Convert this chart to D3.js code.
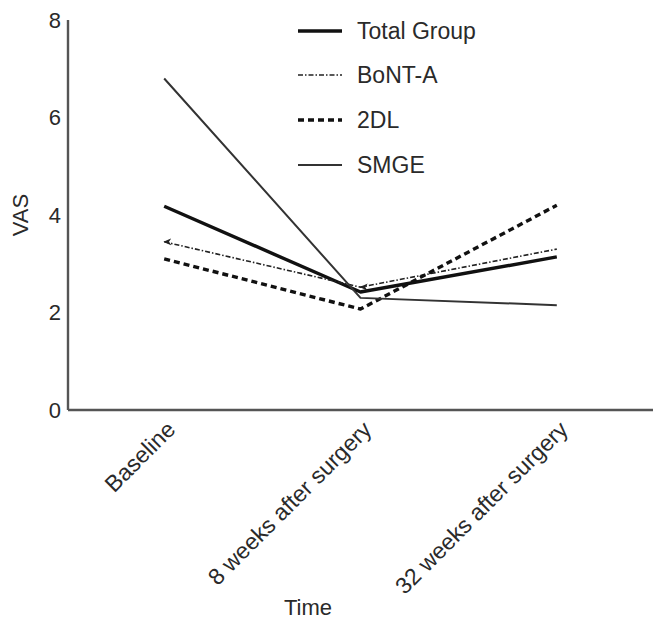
<!DOCTYPE html>
<html>
<head>
<meta charset="utf-8">
<script src="https://cdn.jsdelivr.net/npm/d3@7"></script>
<style>
  html, body { margin: 0; padding: 0; background: #fff; }
  svg { display: block; font-family: "Liberation Sans", Arial, Helvetica, sans-serif; }
</style>
</head>
<body>
<svg id="chart" width="653" height="623"></svg>
<script>
// Time points along the x axis
const timepoints = ["Baseline", "8 weeks after surgery", "32 weeks after surgery"];

// Mean VAS per group at each time point
const totalGroup = [4.18, 2.42, 3.14];
const bontA      = [3.45, 2.52, 3.30];
const twoDL      = [3.10, 2.07, 4.20];
const smge       = [6.80, 2.30, 2.15];

const yTicks = [0, 2, 4, 6, 8];

const seriesNames = ["Total Group", "BoNT-A", "2DL", "SMGE"];
const seriesValues = [totalGroup, bontA, twoDL, smge];

// Line style for each group
const styles = {
  "Total Group": { width: 3.4, dash: null,        color: "#111" },
  "BoNT-A":      { width: 1.6, dash: "5,2,1.5,2", color: "#222" },
  "2DL":         { width: 3.4, dash: "6,4",       color: "#111" },
  "SMGE":        { width: 2.0, dash: null,        color: "#333" }
};

const svg = d3.select("#chart");
const axisColor = "#555";
const textColor = "#2a2a2a";

const x = d3.scalePoint().domain(timepoints).range([68, 653]).padding(0.49);
const y = d3.scaleLinear().domain([0, 8]).range([410, 20]);

// Axes: plain lines with labels, no tick marks
const yAxis = svg.append("g").attr("transform", "translate(68,0)")
  .call(d3.axisLeft(y).tickValues(yTicks).tickSize(0).tickPadding(7).tickFormat(d3.format("d")));
yAxis.select(".domain").attr("stroke", axisColor).attr("stroke-width", 2.4).attr("d", `M0,${y(8)}V${y(0)}`);
yAxis.selectAll("text").attr("font-size", 22).attr("fill", textColor).attr("font-family", null);

const xAxis = svg.append("g").attr("transform", `translate(0,${y(0)})`)
  .call(d3.axisBottom(x).tickSize(0).tickPadding(0));
xAxis.select(".domain").attr("stroke", axisColor).attr("stroke-width", 2.4).attr("d", "M68,0H653");
xAxis.selectAll("text")
  .attr("font-size", 23).attr("fill", textColor).attr("font-family", null)
  .attr("text-anchor", "end")
  .attr("dy", null).attr("y", 0)
  .attr("transform", "translate(12,21) rotate(-45)");

// Axis titles
svg.append("text")
  .attr("transform", `translate(28,${y(4)}) rotate(-90)`)
  .attr("text-anchor", "middle")
  .attr("font-size", 22).attr("fill", textColor)
  .text("VAS");

svg.append("text")
  .attr("x", 308).attr("y", 615)
  .attr("text-anchor", "middle")
  .attr("font-size", 22).attr("fill", textColor)
  .text("Time");

// Left-pointing arrowhead used on the BoNT-A line
const defs = svg.append("defs");
defs.append("marker")
  .attr("id", "arrowL")
  .attr("viewBox", "0 0 10 10")
  .attr("refX", 1).attr("refY", 5)
  .attr("markerWidth", 8).attr("markerHeight", 8)
  .attr("markerUnits", "userSpaceOnUse")
  .attr("orient", "0")
  .append("path")
  .attr("d", "M0,5L10,0.5L7,5L10,9.5Z")
  .attr("fill", "#222");

const line = d3.line()
  .x((d, i) => x(timepoints[i]))
  .y(d => y(d));

seriesNames.forEach((name, k) => {
  const s = styles[name];
  const p = svg.append("path")
    .datum(seriesValues[k])
    .attr("d", line)
    .attr("fill", "none")
    .attr("stroke", s.color)
    .attr("stroke-width", s.width)
    .attr("stroke-linejoin", "round");
  if (s.dash) p.attr("stroke-dasharray", s.dash);
  if (name === "BoNT-A") {
    p.attr("marker-start", "url(#arrowL)").attr("marker-mid", "url(#arrowL)");
  }
});

// Legend
const legend = svg.append("g");
const legendY = [31, 75, 120, 165];
seriesNames.forEach((name, k) => {
  const s = styles[name];
  const ly = legendY[k];
  const l = legend.append("line")
    .attr("x1", 298).attr("x2", 342)
    .attr("y1", ly).attr("y2", ly)
    .attr("stroke", s.color)
    .attr("stroke-width", s.width);
  if (s.dash) l.attr("stroke-dasharray", s.dash);
  legend.append("text")
    .attr("x", 357).attr("y", ly)
    .attr("dy", "0.35em")
    .attr("font-size", 23)
    .attr("fill", textColor)
    .text(name);
});
</script>
</body>
</html>
